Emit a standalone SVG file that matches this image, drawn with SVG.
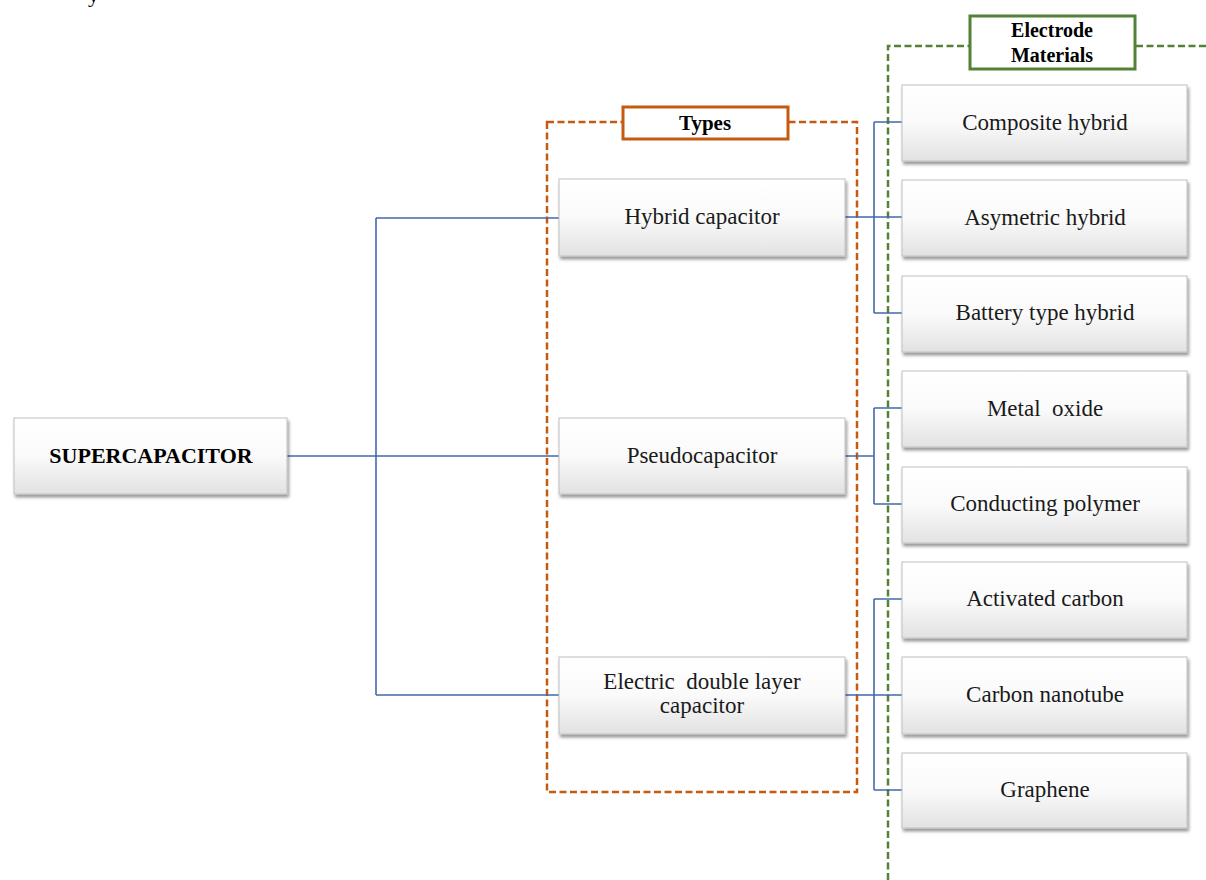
<svg xmlns="http://www.w3.org/2000/svg" width="1206" height="880" viewBox="0 0 1206 880">
<style>
.box{fill:url(#g);stroke:#c0c0c0;stroke-width:1;filter:url(#sh)}
.t{font-family:"Liberation Serif","Times New Roman",serif;font-size:23px;fill:#1a1a1a;text-anchor:middle}
.b{font-family:"Liberation Serif","Times New Roman",serif;font-weight:bold;fill:#000;text-anchor:middle}
.c{fill:none;stroke:#4468ad;stroke-width:1.6}
</style>
<defs>
<linearGradient id="g" x1="0" y1="0" x2="0" y2="1">
<stop offset="0" stop-color="#ffffff"/>
<stop offset="0.5" stop-color="#fafafa"/>
<stop offset="1" stop-color="#e2e2e2"/>
</linearGradient>
<filter id="sh" x="-10%" y="-10%" width="125%" height="140%">
<feDropShadow dx="1.5" dy="3" stdDeviation="1.8" flood-color="#000" flood-opacity="0.4"/>
</filter>
</defs>
<rect width="1206" height="880" fill="#fff"/>
<text x="88" y="2" font-family="Liberation Serif, serif" font-size="22" fill="#000">y</text>

<g id="types-group">
<rect x="547" y="122" width="310" height="670" fill="none" stroke="#c55a11" stroke-width="2.5" stroke-dasharray="7 3.5"/>
<rect x="623" y="107" width="165" height="32" fill="#fff" stroke="#c55a11" stroke-width="3"/>
<text class="b" x="705" y="130" font-size="21">Types</text>
</g>

<g id="materials-group">
<path d="M888 880 V46 H969 M1136 46 H1206" fill="none" stroke="#538135" stroke-width="2.5" stroke-dasharray="7 3.5"/>
<rect x="970" y="16" width="165" height="53" fill="#fff" stroke="#538135" stroke-width="3"/>
<text class="b" x="1052" y="37" font-size="20">Electrode</text>
<text class="b" x="1052" y="62" font-size="20">Materials</text>
</g>

<g id="connectors">
<path class="c" d="M287 456 H559 M376 218 V695 M376 218 H559 M376 695 H559" stroke-width="1.8"/>
<path class="c" d="M845 217 H902 M874 122 V313 M874 122 H902 M874 313 H902"/>
<path class="c" d="M845 456 H874 M874 408 V504 M874 408 H902 M874 504 H902"/>
<path class="c" d="M845 695 H902 M874 599 V790 M874 599 H902 M874 790 H902"/>
</g>

<g id="supercapacitor"><rect class="box" x="14" y="418" width="273" height="76"/><text class="b" x="151" y="463" font-size="22">SUPERCAPACITOR</text></g>

<g id="hybrid-capacitor"><rect class="box" x="559" y="179" width="286" height="77"/><text class="t" x="702" y="224">Hybrid capacitor</text></g>
<g id="pseudocapacitor"><rect class="box" x="559" y="418" width="286" height="76"/><text class="t" x="702" y="463">Pseudocapacitor</text></g>
<g id="edlc"><rect class="box" x="559" y="657" width="286" height="77"/><text class="t" x="702" y="689" xml:space="preserve">Electric  double layer</text><text class="t" x="702" y="713">capacitor</text></g>

<g id="composite-hybrid"><rect class="box" x="902" y="85" width="285" height="76"/><text class="t" x="1045" y="130">Composite hybrid</text></g>
<g id="asymetric-hybrid"><rect class="box" x="902" y="180" width="285" height="76"/><text class="t" x="1045" y="225">Asymetric hybrid</text></g>
<g id="battery-type-hybrid"><rect class="box" x="902" y="276" width="285" height="76"/><text class="t" x="1045" y="320">Battery type hybrid</text></g>
<g id="metal-oxide"><rect class="box" x="902" y="371" width="285" height="76"/><text class="t" x="1045" y="416" xml:space="preserve">Metal  oxide</text></g>
<g id="conducting-polymer"><rect class="box" x="902" y="467" width="285" height="76"/><text class="t" x="1045" y="511">Conducting polymer</text></g>
<g id="activated-carbon"><rect class="box" x="902" y="562" width="285" height="76"/><text class="t" x="1045" y="606">Activated carbon</text></g>
<g id="carbon-nanotube"><rect class="box" x="902" y="657" width="285" height="77"/><text class="t" x="1045" y="702">Carbon nanotube</text></g>
<g id="graphene"><rect class="box" x="902" y="753" width="285" height="75"/><text class="t" x="1045" y="797">Graphene</text></g>
</svg>
